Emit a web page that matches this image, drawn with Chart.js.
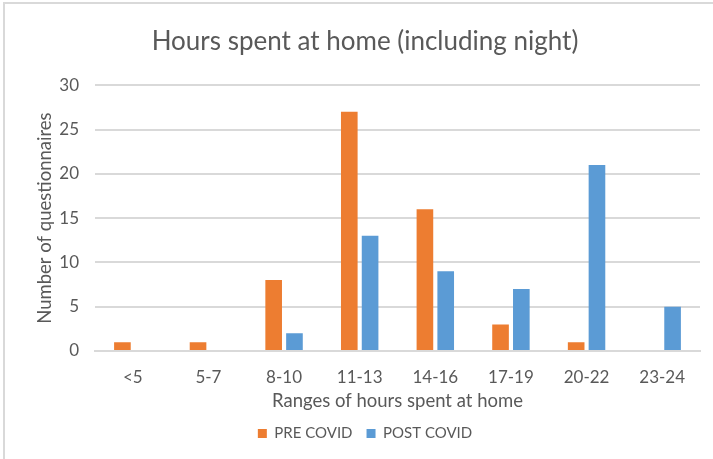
<!DOCTYPE html>
<html>
<head>
<meta charset="utf-8">
<script src="https://cdn.jsdelivr.net/npm/chart.js@4/dist/chart.umd.min.js"></script>
<style>
  html, body { margin: 0; padding: 0; background: #fff; }
  #wrap { position: relative; width: 713px; height: 459px; }
  #frame { position: absolute; left: 3px; top: 2px; right: -5px; bottom: -5px; border-top: 2px solid #d9d9d9; border-left: 2px solid #d9d9d9; pointer-events: none; }
</style>
</head>
<body>
<div id="wrap">
  <canvas id="chart" width="713" height="459"></canvas>
  <div id="frame"></div>
</div>
<script>
const categories = ['<5', '5-7', '8-10', '11-13', '14-16', '17-19', '20-22', '23-24'];
const preCovid = [1, 1, 8, 27, 16, 3, 1, 0];
const postCovid = [0, 0, 2, 13, 9, 7, 21, 5];
const yTicks = [0, 5, 10, 15, 20, 25, 30];

const FONT = 'Lato, "Open Sans", sans-serif';
const TEXT = '#595959';

const ctx = document.getElementById('chart').getContext('2d');
new Chart(ctx, {
  type: 'bar',
  data: {
    labels: categories,
    datasets: [
      { label: 'PRE COVID', data: preCovid, backgroundColor: '#ED7D31' },
      { label: 'POST COVID', data: postCovid, backgroundColor: '#5B9BD5' }
    ]
  },
  options: {
    responsive: false,
    animation: false,
    layout: { padding: { left: 30, right: 13, top: 0, bottom: 8 } },
    datasets: { bar: { categoryPercentage: 0.55, barPercentage: 0.8 } },
    plugins: {
      title: {
        display: true,
        text: 'Hours spent at home (including night)',
        color: TEXT,
        font: { family: FONT, size: 26, weight: 'normal' },
        padding: { top: 26, bottom: 28 }
      },
      legend: {
        position: 'bottom',
        labels: {
          color: TEXT,
          font: { family: FONT, size: 15 },
          boxWidth: 9,
          boxHeight: 9,
          padding: 14
        }
      },
      tooltip: { enabled: false }
    },
    scales: {
      x: {
        grid: { display: false },
        border: { color: '#d9d9d9', width: 2 },
        ticks: { color: TEXT, font: { family: FONT, size: 17 }, padding: 8 },
        title: { display: true, text: 'Ranges of hours spent at home', color: TEXT, font: { family: FONT, size: 18.5 }, padding: { top: 4, bottom: 0 } },
        afterFit: (scale) => { scale.height = 61; }
      },
      y: {
        min: 0,
        max: 30,
        afterBuildTicks: (scale) => { scale.ticks = yTicks.map(v => ({ value: v })); },
        grid: { color: '#d9d9d9', lineWidth: 2, drawTicks: false },
        border: { display: false },
        ticks: { color: TEXT, font: { family: FONT, size: 17 }, padding: 16 },
        title: { display: true, text: 'Number of questionnaires', color: TEXT, font: { family: FONT, size: 18.5 } },
        afterFit: (scale) => { scale.width = 65; }
      }
    }
  }
});
</script>
</body>
</html>
